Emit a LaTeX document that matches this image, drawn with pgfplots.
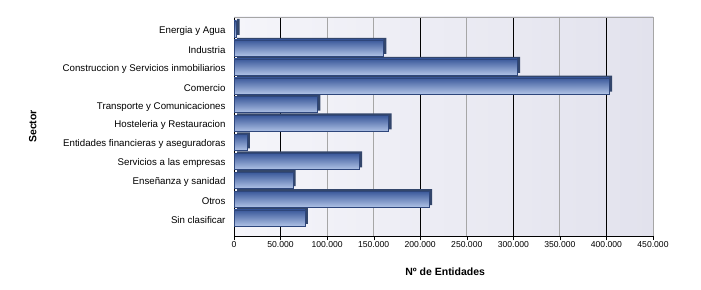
\documentclass[border=0pt]{standalone}
\usepackage{pgfplots}
\pgfplotsset{compat=1.18}
\usepackage{fontspec}
\setmainfont{Liberation Sans}
\definecolor{barTop}{HTML}{3A589A}
\definecolor{barBot}{HTML}{AEC1E5}
\definecolor{barSide}{HTML}{33466B}
\definecolor{wallL}{HTML}{F5F5FA}
\definecolor{wallR}{HTML}{E2E2ED}
\pgfplotstableread{
y x
10 2800
9 160300
8 304200
7 402800
6 89600
5 166000
4 13700
3 134300
2 63000
1 209500
0 76000
}\datatable
\begin{document}
\begin{tikzpicture}[x=1pt,y=1pt]
\path (0,0) rectangle (701,289);
\begin{axis}[
  at={(234pt,53pt)}, anchor=south west,
  scale only axis, width=419pt, height=219pt,
  xbar, xmin=0, xmax=450000,
  ymin=-0.85, ymax=10.74,
  bar width=16pt, bar shift=2pt,
  axis lines=left, axis line style={-, black},
  axis background/.style={shade, left color=wallL, right color=wallR},
  xtick={0,50000,...,450000},
  scaled x ticks=false,
  /pgf/number format/.cd, fixed, precision=0, 1000 sep={.}, assume math mode=true,
  /pgfplots/.cd,
  xticklabel style={font=\fontsize{8.6}{10}\selectfont, yshift=2pt},
  xmajorgrids, major grid style={gray!70, line width=0.8pt},
  extra x ticks={50000,200000,300000,400000},
  extra x tick labels={},
  extra x tick style={grid=major, major grid style={black, line width=0.8pt}},
  ytick={0,...,10},
  yticklabels={Sin clasificar,Otros,Enseñanza y sanidad,Servicios a las empresas,Entidades financieras y aseguradoras,Hosteleria y Restauracion,Transporte y Comunicaciones,Comercio,Construccion y Servicios inmobiliarios,Industria,Energia y Agua},
  yticklabel style={font=\fontsize{9.7}{11}\selectfont, xshift=-1pt},
  ytick style={draw=none},
  minor ytick={-0.5,0.5,...,10.5},
  minor tick length=5pt,
  tick align=outside,
  xtick style={black},
  major tick length=4pt,
  xlabel={\textbf{Nº de Entidades}},
  xlabel style={font=\fontsize{10.5}{12}\selectfont, at={(axis description cs:0.504,-0.164)}, anchor=center},
  ylabel={\textbf{Sector}},
  ylabel style={font=\fontsize{10.5}{12}\selectfont, at={(axis description cs:-0.48,0.5)}, anchor=center},
  after end axis/.code={\draw[gray!70, line width=0.8pt] (rel axis cs:0,1) -- (rel axis cs:1,1) -- (rel axis cs:1,0);},
  mybar/.style={draw=barTop!80!black, line width=0.3pt, top color=barTop, bottom color=barBot},
]
\addplot[fill=barSide, draw=none, xshift=3pt, yshift=2pt] table[x=x, y=y] {\datatable};
\addplot[mybar] coordinates {(2800,10)};
\addplot[mybar] coordinates {(160300,9)};
\addplot[mybar] coordinates {(304200,8)};
\addplot[mybar] coordinates {(402800,7)};
\addplot[mybar] coordinates {(89600,6)};
\addplot[mybar] coordinates {(166000,5)};
\addplot[mybar] coordinates {(13700,4)};
\addplot[mybar] coordinates {(134300,3)};
\addplot[mybar] coordinates {(63000,2)};
\addplot[mybar] coordinates {(209500,1)};
\addplot[mybar] coordinates {(76000,0)};
\end{axis}
\end{tikzpicture}
\end{document}
